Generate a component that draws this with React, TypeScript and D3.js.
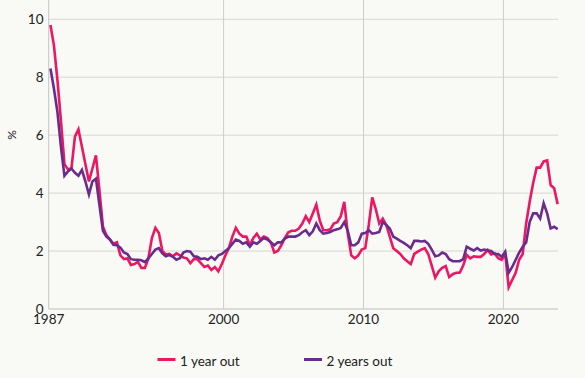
import React from "react";
import * as d3 from "d3";

const START_YEAR = 1987.625; // first quarterly observation
const oneYearOut = [
  9.8, 9.1, 7.9, 6.5, 5.0, 4.82, 4.85, 5.95, 6.2, 5.6, 5.0, 4.4, 4.85, 5.3, 4.1, 2.85,
  2.55, 2.4, 2.25, 2.3, 1.85, 1.72, 1.75, 1.52, 1.55, 1.63, 1.42, 1.42, 1.75, 2.45, 2.8, 2.62,
  2.0, 1.88, 1.9, 1.82, 1.92, 1.85, 1.78, 1.75, 1.58, 1.72, 1.72, 1.58, 1.45, 1.5, 1.35, 1.45,
  1.3, 1.55, 1.85, 2.1, 2.5, 2.8, 2.6, 2.5, 2.5, 2.2, 2.45, 2.6, 2.4, 2.5, 2.45, 2.3,
  1.95, 2.0, 2.2, 2.45, 2.65, 2.7, 2.7, 2.78, 2.95, 3.2, 3.0, 3.3, 3.6, 3.05, 2.72, 2.72,
  2.75, 2.95, 3.0, 3.2, 3.7, 2.6, 1.85, 1.75, 1.85, 2.05, 2.1, 2.9, 3.85, 3.45, 2.95, 3.12,
  2.9, 2.5, 2.1, 2.0, 1.9, 1.75, 1.65, 1.55, 1.9, 1.98, 2.05, 2.1, 1.9, 1.5, 1.08, 1.3,
  1.42, 1.48, 1.1, 1.2, 1.25, 1.25, 1.5, 1.87, 1.75, 1.82, 1.8, 1.8, 1.9, 2.04, 1.88, 1.92,
  1.75, 1.7, 1.9, 0.75, 1.0, 1.25, 1.7, 1.9, 2.95, 3.7, 4.35, 4.88, 4.88, 5.1, 5.13, 4.28,
  4.17, 3.62,
];
const twoYearsOut = [
  8.3, 7.6, 6.8, 5.6, 4.6, 4.75, 4.85, 4.7, 4.6, 4.8, 4.4, 3.95, 4.4, 4.5, 3.6, 2.7,
  2.5, 2.4, 2.22, 2.2, 2.12, 1.95, 1.9, 1.72, 1.7, 1.7, 1.68, 1.62, 1.75, 1.9, 2.05, 2.1,
  1.92, 1.82, 1.86, 1.8, 1.7, 1.75, 1.95, 2.0, 1.98, 1.82, 1.8, 1.72, 1.75, 1.7, 1.8, 1.7,
  1.85, 1.9, 2.0, 2.1, 2.25, 2.4, 2.35, 2.25, 2.3, 2.15, 2.3, 2.25, 2.35, 2.45, 2.4, 2.3,
  2.2, 2.3, 2.3, 2.43, 2.5, 2.5, 2.5, 2.55, 2.65, 2.72, 2.55, 2.68, 2.95, 2.72, 2.6, 2.62,
  2.66, 2.72, 2.75, 2.8, 3.0, 2.7, 2.2, 2.2, 2.3, 2.6, 2.62, 2.72, 2.6, 2.62, 2.66, 3.0,
  2.9, 2.78, 2.5, 2.43, 2.35, 2.28, 2.2, 2.1, 2.35, 2.35, 2.33, 2.35, 2.25, 2.05, 1.82, 1.85,
  1.95, 1.9, 1.72, 1.65, 1.65, 1.65, 1.72, 2.15, 2.08, 2.02, 2.1, 2.02, 2.05, 2.02, 2.0, 1.9,
  1.9, 1.8, 1.98, 1.25, 1.45, 1.7, 1.95, 2.15, 2.3, 3.0, 3.3, 3.3, 3.12, 3.65, 3.3, 2.78,
  2.84, 2.76,
];
const yTicks = [0, 2, 4, 6, 8, 10];
const xTickValues = [1987.5, 2000, 2010, 2020];
const xTickLabels = ["1987", "2000", "2010", "2020"];
const seriesNames = ["1 year out", "2 years out"];
const seriesColors = ["#ec1662", "#6a2c8c"];

const W = 585;
const H = 378;
const FONT = "Lato, 'Noto Sans', sans-serif";

export default function App() {
  const x = d3.scaleLinear().domain([1987.5, 2023.9]).range([48.7, 558]);
  const y = d3.scaleLinear().domain([0, 10]).range([309, 19.3]);
  const dates = oneYearOut.map((_, i) => START_YEAR + i * 0.25);
  const line = d3
    .line<number>()
    .x((_, i) => x(dates[i]))
    .y((d) => y(d));
  const series = [oneYearOut, twoYearsOut];
  const plotTop = 0;

  return (
    <svg
      width={W}
      height={H}
      style={{ position: "absolute", left: 0, top: 0, display: "block" }}
      fontFamily={FONT}
    >
      <rect x={0} y={0} width={W} height={H} fill="#f9f9f6" />
      {yTicks.map((t) => (
        <line
          key={"gy" + t}
          x1={x.range()[0]}
          x2={x.range()[1]}
          y1={y(t)}
          y2={y(t)}
          stroke={t === 0 ? "#bdbdbb" : "#d6d6d2"}
          strokeWidth={1}
        />
      ))}
      {xTickValues.map((t, i) => (
        <line
          key={"gx" + t}
          x1={x(t)}
          x2={x(t)}
          y1={plotTop}
          y2={y(0)}
          stroke={i === 0 ? "#c4c4c0" : "#cdcdc9"}
          strokeWidth={1}
        />
      ))}
      {yTicks.map((t) => (
        <text
          key={"ty" + t}
          x={43.5}
          y={y(t)}
          textAnchor="end"
          dominantBaseline="central"
          fontSize={13.5}
          fill="#222"
        >
          {t}
        </text>
      ))}
      {xTickValues.map((t, i) => (
        <text
          key={"tx" + t}
          x={x(t)}
          y={324}
          textAnchor="middle"
          fontSize={13.5}
          fill="#222"
        >
          {xTickLabels[i]}
        </text>
      ))}
      <text
        transform="translate(11,135) rotate(-90)"
        textAnchor="middle"
        dominantBaseline="central"
        fontSize={12}
        fill="#222"
      >
        %
      </text>
      {series.map((s, k) => (
        <path
          key={"s" + k}
          d={line(s) || ""}
          fill="none"
          stroke={seriesColors[k]}
          strokeWidth={2.6}
          strokeLinejoin="miter"
        />
      ))}
      {seriesNames.map((name, k) => {
        const lx = k === 0 ? 157.5 : 304;
        return (
          <g key={"lg" + k}>
            <line
              x1={lx}
              x2={lx + 18}
              y1={359.5}
              y2={359.5}
              stroke={seriesColors[k]}
              strokeWidth={3}
            />
            <text
              x={lx + 22.5}
              y={360.5}
              dominantBaseline="central"
              fontSize={13.5}
              fill="#222"
            >
              {name}
            </text>
          </g>
        );
      })}
    </svg>
  );
}
